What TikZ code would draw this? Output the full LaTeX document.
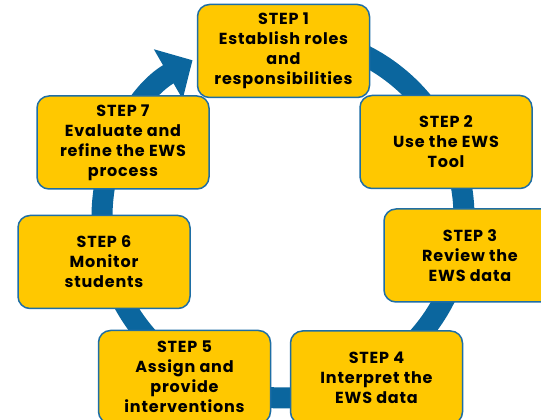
\documentclass[tikz,border=0pt]{standalone}
\usepackage{fontspec}
\setmainfont{Poppins}[LetterSpace=5]
\usetikzlibrary{arrows.meta}
\definecolor{ringblue}{HTML}{0B669E}
\definecolor{edgeblue}{HTML}{1E6EA5}
\definecolor{stepgold}{HTML}{FFC800}
\tikzset{
  stp/.style  = {draw=edgeblue, line width=1.5pt, fill=stepgold, rounded corners=12pt,
                 minimum width=172pt, minimum height=93pt, align=center, inner sep=2pt,
                 font=\bfseries\fontsize{16}{20}\selectfont},
  ring/.style = {draw=ringblue, line width=21pt, -{Triangle[length=28pt, width=56pt]}},
}

\begin{document}
\begin{tikzpicture}[x=1pt, y=1pt]
\useasboundingbox (0,0) rectangle (541,420);
\fill[white] (0,0) rectangle (541,420);
\clip (0,0) rectangle (541,420);

% cycle ring, runs clockwise and comes back into step 1
\coordinate (hub) at (283,203);
\draw[ring] (hub) ++(90:181) arc[start angle=90, end angle=-240, radius=181];

\node[stp] (s1) at (283.5,369) {STEP 1\\Establish roles\\and\\responsibilities};
\node[stp] (s2) at (446,278)   {STEP 2\\Use the EWS\\Tool};
\node[stp] (s3) at (470,164.5) {STEP 3\\Review the\\EWS data};
\node[stp] (s4) at (376.5,42.5) {STEP 4\\Interpret the\\EWS data};
\node[stp] (s5) at (184.5,43)  {STEP 5\\Assign and\\provide\\interventions};
\node[stp] (s6) at (104,158)   {STEP 6\\Monitor\\students};
\node[stp] (s7) at (123,277.5) {STEP 7\\Evaluate and\\refine the EWS\\process};
\end{tikzpicture}
\end{document}
